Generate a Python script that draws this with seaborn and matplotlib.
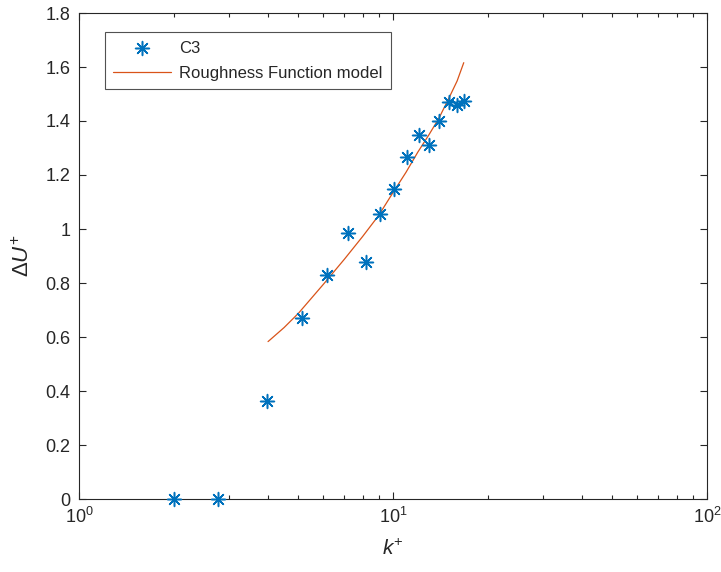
import numpy as np
import pandas as pd
import matplotlib
matplotlib.use('Agg')
import matplotlib.pyplot as plt
import matplotlib.ticker as mticker
import seaborn as sns

# measured points (C3)
k_plus = [2.0, 2.77, 3.97, 5.13, 6.16, 7.19, 8.2, 9.09, 10.07, 11.08, 12.1, 13.0, 14.0, 15.1, 16.0, 16.8]
du_plus = [0.0, 0.0, 0.364, 0.672, 0.828, 0.984, 0.876, 1.054, 1.147, 1.266, 1.347, 1.310, 1.399, 1.47, 1.459, 1.474]

# roughness function model
model_k = [4.0, 4.5, 5.0, 6.0, 7.0, 8.0, 9.0, 10.0, 11.0, 12.0, 13.0, 14.0, 15.0, 16.0, 16.8]
model_du = [0.583, 0.635, 0.688, 0.795, 0.888, 0.972, 1.05, 1.135, 1.21, 1.285, 1.348, 1.41, 1.48, 1.548, 1.616]

sns.set_style('white')
plt.rcParams['font.family'] = ['Liberation Sans', 'DejaVu Sans']
plt.rcParams['mathtext.fontset'] = 'custom'
plt.rcParams['mathtext.rm'] = 'Liberation Sans'
plt.rcParams['mathtext.it'] = 'Liberation Sans:italic'

fig = plt.figure(figsize=(7.21, 5.72), dpi=100)
ax = fig.add_axes([79 / 721, 1 - 499 / 572, 628 / 721, 486 / 572])

pts = pd.DataFrame({'k': k_plus, 'du': du_plus})
mod = pd.DataFrame({'k': model_k, 'du': model_du})

sns.scatterplot(data=pts, x='k', y='du', marker=(8, 2, 0), s=100, color='#0072BD',
                linewidth=1.1, label='C3', ax=ax, zorder=3, clip_on=False)
sns.lineplot(data=mod, x='k', y='du', color='#D95319', linewidth=0.9,
             label='Roughness Function model', ax=ax, sort=False)

ax.set_xscale('log')
ax.set_xlim(1, 100)
ax.set_ylim(0, 1.8)
ax.xaxis.set_major_locator(mticker.LogLocator(base=10))
ax.xaxis.set_minor_locator(mticker.LogLocator(base=10, subs=np.arange(2, 10)))
ax.xaxis.set_minor_formatter(mticker.NullFormatter())
ax.set_yticks(np.arange(0, 1.81, 0.2))
ax.set_yticklabels(['0', '0.2', '0.4', '0.6', '0.8', '1', '1.2', '1.4', '1.6', '1.8'])

for s in ax.spines.values():
    s.set_color('#262626')
    s.set_linewidth(0.8)
ax.tick_params(which='both', direction='in', bottom=True, left=True, top=True, right=True,
               colors='#262626', labelsize=13, width=0.8)
ax.tick_params(which='major', length=5, pad=6)
ax.tick_params(which='minor', length=3)

ax.set_xlabel('$k^{+}$', fontsize=15, labelpad=8)
ax.set_ylabel(r'$\Delta U^{+}$', fontsize=16, labelpad=8)

leg = ax.legend(loc='upper left', bbox_to_anchor=(0.041, 0.96), fontsize=12,
                frameon=True, fancybox=False, edgecolor='#262626', handlelength=3.5,
                borderpad=0.5, labelspacing=0.6, handletextpad=0.45, borderaxespad=0)
leg.get_frame().set_linewidth(0.8)

fig.savefig('out.png', dpi=100)
